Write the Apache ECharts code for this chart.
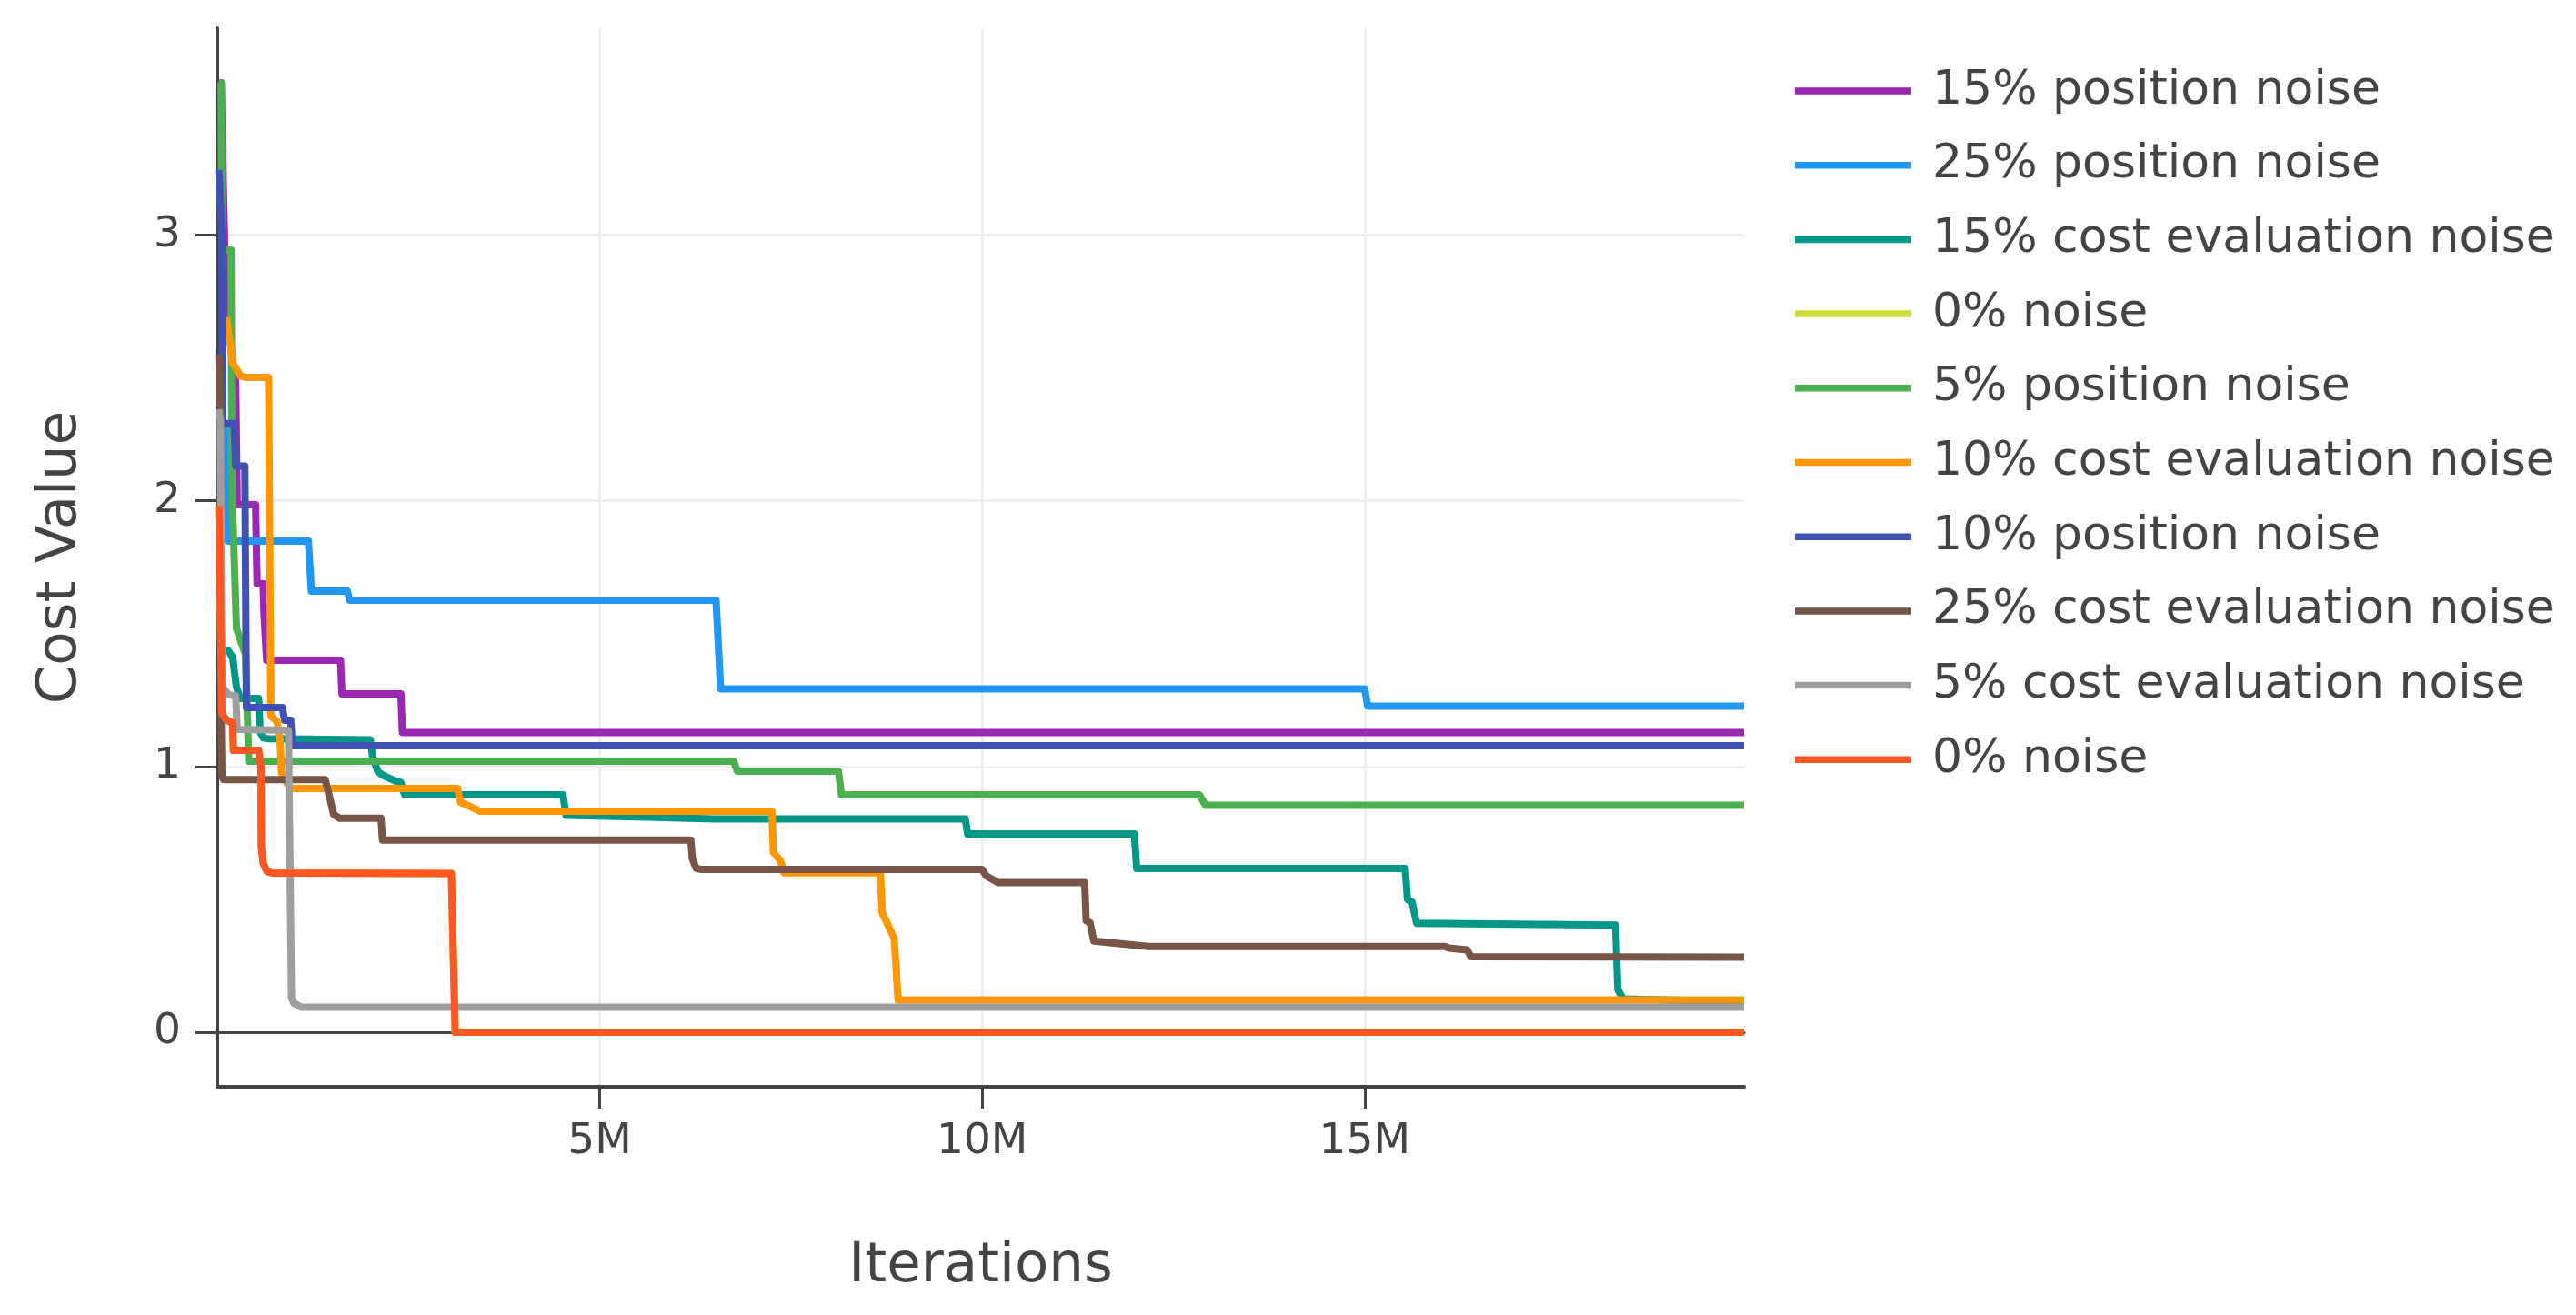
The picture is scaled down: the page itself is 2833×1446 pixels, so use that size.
<!DOCTYPE html>
<html>
<head>
<meta charset="utf-8">
<script src="https://cdn.jsdelivr.net/npm/echarts@6/dist/echarts.min.js"></script>
<style>
html,body{margin:0;padding:0;background:#fff;}
#chart{width:2833px;height:1446px;}
</style>
</head>
<body>
<div id="chart"></div>
<script>
// ---- data (x in millions of iterations, y = cost value) ----
const seriesNames = [
  '15% position noise',
  '25% position noise',
  '15% cost evaluation noise',
  '0% noise',
  '5% position noise',
  '10% cost evaluation noise',
  '10% position noise',
  '25% cost evaluation noise',
  '5% cost evaluation noise',
  '0% noise '
];
const seriesColors = ['#9C27B0','#2196F3','#009688','#CDDC39','#4CAF50','#FF9800','#3F51B5','#795548','#9E9E9E','#FF5722'];

const pos15 = [[0.02,3.573],[0.05,3.573],[0.1,2.9],[0.2,2.5],[0.24,2.447],[0.26,1.985],[0.5,1.985],[0.52,1.687],[0.6,1.687],[0.61,1.574],[0.63,1.574],[0.645,1.40],[1.61,1.40],[1.63,1.273],[2.40,1.273],[2.42,1.128],[19.96,1.128]];
const pos25 = [[0.02,2.3],[0.12,2.27],[0.14,1.848],[1.19,1.848],[1.23,1.66],[1.7,1.66],[1.73,1.626],[6.52,1.626],[6.58,1.292],[15.0,1.292],[15.04,1.227],[19.96,1.227]];
const cost15 = [[0.02,1.44],[0.14,1.437],[0.2,1.41],[0.25,1.3],[0.3,1.256],[0.54,1.256],[0.56,1.13],[0.6,1.108],[0.66,1.105],[2.0,1.1],[2.03,1.037],[2.1,0.98],[2.18,0.965],[2.33,0.945],[2.4,0.94],[2.45,0.893],[4.52,0.893],[4.56,0.816],[5.5,0.81],[6.5,0.803],[9.78,0.803],[9.81,0.746],[11.99,0.746],[12.02,0.616],[15.53,0.616],[15.56,0.5],[15.62,0.49],[15.68,0.41],[18.28,0.403],[18.31,0.16],[18.38,0.125],[19.96,0.115]];
const noise0a = [[0.02,1.98],[0.04,1.98],[0.06,1.2],[0.12,1.175],[0.2,1.164],[0.21,1.061],[0.54,1.061],[0.57,1.0],[0.575,0.7],[0.6,0.635],[0.65,0.605],[0.73,0.599],[3.06,0.597],[3.11,0.0],[19.96,0.0]];
const pos5 = [[0.02,3.573],[0.05,3.573],[0.06,2.943],[0.18,2.943],[0.19,2.2],[0.2,1.97],[0.25,1.52],[0.37,1.42],[0.41,1.02],[6.75,1.02],[6.8,0.982],[8.12,0.982],[8.16,0.893],[12.84,0.893],[12.92,0.854],[19.96,0.854]];
const cost10 = [[0.12,2.69],[0.2,2.52],[0.24,2.5],[0.3,2.47],[0.37,2.464],[0.67,2.464],[0.7,1.19],[0.78,1.17],[0.82,1.1],[0.84,0.975],[0.95,0.917],[3.14,0.917],[3.18,0.866],[3.3,0.85],[3.43,0.832],[7.25,0.832],[7.27,0.677],[7.36,0.647],[7.41,0.6],[8.67,0.6],[8.69,0.452],[8.85,0.353],[8.9,0.122],[19.96,0.122]];
const pos10 = [[0.02,3.245],[0.06,3.0],[0.07,2.29],[0.22,2.29],[0.24,2.13],[0.36,2.13],[0.38,1.222],[0.85,1.222],[0.88,1.174],[0.96,1.174],[0.98,1.078],[19.96,1.078]];
const cost25 = [[0.02,2.55],[0.04,2.344],[0.05,1.2],[0.06,0.965],[0.08,0.951],[1.41,0.951],[1.48,0.87],[1.52,0.82],[1.6,0.805],[2.14,0.805],[2.16,0.7235],[6.19,0.7235],[6.21,0.654],[6.26,0.617],[6.32,0.613],[10.0,0.613],[10.05,0.589],[10.21,0.563],[11.34,0.563],[11.36,0.42],[11.41,0.412],[11.46,0.343],[12.17,0.323],[16.05,0.323],[16.1,0.317],[16.34,0.31],[16.39,0.284],[19.96,0.283]];
const cost5 = [[0.02,2.344],[0.04,2.3],[0.06,1.3],[0.15,1.27],[0.24,1.266],[0.26,1.14],[0.93,1.136],[0.97,0.13],[1.0,0.11],[1.1,0.094],[19.96,0.094]];
const noise0b = [[0.02,1.98],[0.04,1.98],[0.06,1.2],[0.12,1.175],[0.2,1.164],[0.21,1.061],[0.54,1.061],[0.57,1.0],[0.575,0.7],[0.6,0.635],[0.65,0.605],[0.73,0.599],[3.06,0.597],[3.11,0.0],[19.96,0.0]];

const seriesData = [pos15, pos25, cost15, noise0a, pos5, cost10, pos10, cost25, cost5, noise0b];

const xTicks = [5, 10, 15];
const yTicks = [0, 1, 2, 3];
const xMin = 0, xMax = 19.96;
const yMin = -0.205, yMax = 3.778;

// ---- chart ----
const FONT = 'DejaVu Sans, Verdana, sans-serif';
const TXT = '#444';
const chart = echarts.init(document.getElementById('chart'), null, {renderer: 'canvas', width: 2833, height: 1446});

const series = seriesNames.map((name, i) => ({
  name: name,
  type: 'line',
  data: seriesData[i],
  xAxisIndex: 0,
  yAxisIndex: 0,
  showSymbol: false,
  symbol: 'none',
  color: seriesColors[i],
  itemStyle: {color: seriesColors[i]},
  lineStyle: {width: 8, color: seriesColors[i], join: 'round'},
  emphasis: {disabled: true},
  animation: false
}));

chart.setOption({
  backgroundColor: '#fff',
  animation: false,
  grid: {left: 239, right: 915, top: 31, bottom: 251, containLabel: false, outerBoundsMode: 'none'},
  legend: {
    orient: 'vertical',
    left: 1974,
    top: 70,
    padding: 0,
    itemWidth: 128,
    itemHeight: 7.5,
    itemGap: 21.7,
    icon: 'rect',
    data: seriesNames,
    formatter: n => n.trim(),
    textStyle: {fontSize: 52, color: TXT, fontFamily: FONT, lineHeight: 60, padding: [0, 0, 0, 18]}
  },
  xAxis: [
    {
      type: 'value', min: xMin, max: xMax, interval: 5, position: 'bottom',
      axisLine: {show: true, onZero: false, lineStyle: {color: TXT, width: 4}},
      axisTick: {show: true, length: 24, customValues: xTicks, lineStyle: {color: TXT, width: 3}},
      axisLabel: {customValues: xTicks, formatter: v => v + 'M', color: TXT, fontSize: 47, fontFamily: FONT, margin: 37},
      splitLine: {show: true, lineStyle: {color: '#eeeeee', width: 3}},
      name: 'Iterations', nameLocation: 'middle', nameGap: 168,
      nameTextStyle: {fontSize: 61, color: TXT, fontFamily: FONT}
    },
    {
      type: 'value', min: xMin, max: xMax, position: 'bottom',
      axisLine: {show: true, onZero: true, lineStyle: {color: TXT, width: 3}},
      axisTick: {show: false}, axisLabel: {show: false}, splitLine: {show: false}
    }
  ],
  yAxis: {
    type: 'value', min: yMin, max: yMax, minInterval: 1, maxInterval: 1, splitNumber: 4,
    axisLine: {show: true, onZero: false, lineStyle: {color: TXT, width: 4}},
    axisTick: {show: true, length: 24, customValues: yTicks, lineStyle: {color: TXT, width: 3}},
    axisLabel: {customValues: yTicks, color: TXT, fontSize: 47, fontFamily: FONT, margin: 40},
    splitLine: {show: true, lineStyle: {color: '#eeeeee', width: 3}},
    name: 'Cost Value', nameLocation: 'middle', nameGap: 141,
    nameTextStyle: {fontSize: 61, color: TXT, fontFamily: FONT}
  },
  series: series
});
</script>
</body>
</html>
